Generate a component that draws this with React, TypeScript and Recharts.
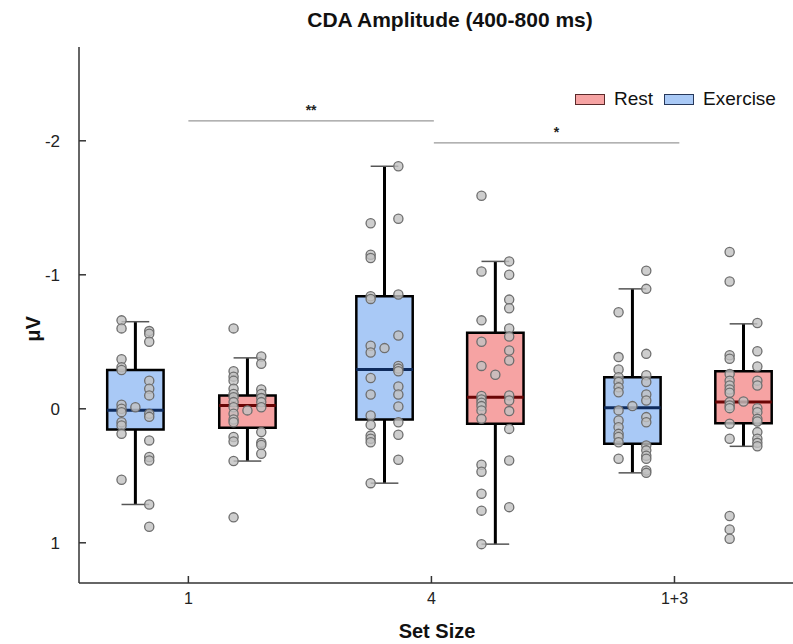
import React from 'react'
import { ComposedChart, XAxis, YAxis, Scatter, ReferenceArea, ReferenceLine } from 'recharts'

// set-size categories and their tick labels
const setSizes = ['1', '4', '1+3']
const tickPos = [1, 2, 3]

// box centres on the x scale, per condition
const exercisePos = [0.782, 1.807, 2.827]
const restPos = [1.243, 2.263, 3.284]

// [lower whisker, q1, median, q3, upper whisker] in µV
const exerciseStats = [
  [-0.65, -0.29, 0.01, 0.155, 0.714],
  [-1.81, -0.84, -0.293, 0.08, 0.555],
  [-0.895, -0.236, -0.007, 0.26, 0.478],
]
const restStats = [
  [-0.38, -0.1, -0.025, 0.142, 0.39],
  [-1.1, -0.567, -0.087, 0.112, 1.01],
  [-0.634, -0.28, -0.05, 0.107, 0.28],
]

// group means (drawn at the box centre)
const exerciseMeans = [-0.012, -0.453, -0.02]
const restMeans = [0.012, -0.254, -0.055]

// individual participants, left and right jitter columns
const exerciseLeft = [
  [-0.66, -0.6, -0.37, -0.31, -0.29, -0.03, 0.0, 0.025, 0.1, 0.124, 0.187, 0.53],
  [-1.385, -1.15, -1.125, -0.84, -0.82, -0.47, -0.42, -0.23, -0.107, 0.05, 0.12, 0.2, 0.224, 0.25, 0.555],
  [-0.72, -0.386, -0.293, -0.236, -0.2, -0.16, -0.124, 0.012, 0.087, 0.137, 0.187, 0.21, 0.25, 0.373],
]
const exerciseRight = [
  [-0.58, -0.56, -0.5, -0.21, -0.15, -0.1, 0.037, 0.06, 0.236, 0.36, 0.386, 0.714, 0.88],
  [-1.81, -1.418, -0.853, -0.547, -0.32, -0.3, -0.28, -0.166, -0.107, -0.017, 0.1, 0.194, 0.38],
  [-1.03, -0.895, -0.41, -0.25, -0.2, -0.107, -0.062, 0.062, 0.1, 0.274, 0.31, 0.35, 0.373, 0.46, 0.478],
]
const restLeft = [
  [-0.6, -0.28, -0.24, -0.21, -0.15, -0.11, -0.087, -0.05, -0.012, 0.037, 0.08, 0.1, 0.21, 0.244, 0.39, 0.81],
  [-1.59, -1.025, -0.66, -0.5, -0.32, -0.095, -0.07, -0.045, -0.02, 0.012, 0.075, 0.418, 0.47, 0.634, 0.76, 1.01],
  [-1.17, -0.95, -0.4, -0.373, -0.26, -0.21, -0.174, -0.144, -0.12, -0.05, -0.025, -0.005, 0.112, 0.224, 0.8, 0.9, 0.97],
]
const restRight = [
  [-0.39, -0.336, -0.144, -0.11, -0.08, -0.05, -0.012, 0.174, 0.254, 0.27, 0.336],
  [-1.1, -1.0, -0.815, -0.75, -0.6, -0.54, -0.435, -0.36, -0.1, -0.062, 0.017, 0.15, 0.386, 0.734],
  [-0.64, -0.43, -0.316, -0.21, -0.174, -0.005, 0.025, 0.075, 0.095, 0.174, 0.224, 0.254, 0.28],
]

// significance brackets: [x from, x to, y, label]
const brackets = [
  { x1: 1.0, x2: 2.01, y: -2.149, text: '**' },
  { x1: 2.01, x2: 3.02, y: -1.985, text: '*' },
]

const legendItems = [
  { name: 'Rest', fill: '#f6a3a3', stroke: '#5a2a2a' },
  { name: 'Exercise', fill: '#a9c9f6', stroke: '#27385a' },
]

const BOX_HALF = 0.116
const JITTER = 0.057
const CAP_HALF = 0.057
const FONT = '"Liberation Sans", Arial, Helvetica, sans-serif'

const groups = [
  { pos: exercisePos, stats: exerciseStats, means: exerciseMeans, left: exerciseLeft, right: exerciseRight, fill: '#a9c9f6', median: '#0f2b5c' },
  { pos: restPos, stats: restStats, means: restMeans, left: restLeft, right: restRight, fill: '#f6a3a3', median: '#6a0606' },
]

const points = []
groups.forEach(g => {
  g.pos.forEach((p, i) => {
    g.left[i].forEach(v => points.push({ x: p - JITTER, y: v }))
    g.right[i].forEach(v => points.push({ x: p + JITTER, y: v }))
    points.push({ x: p, y: g.means[i] })
  })
})

const Dot = (props: any) => (
  <circle cx={props.cx} cy={props.cy} r={4.6} fill="#c2c2c2" fillOpacity={0.8} stroke="#6e6e6e" strokeWidth={1.3} />
)

export default function App() {
  const boxes = []
  groups.forEach((g, gi) => {
    g.pos.forEach((p, i) => {
      const [lo, q1, med, q3, hi] = g.stats[i]
      const k = `${gi}-${i}`
      boxes.push(
        <ReferenceLine key={`wl${k}`} segment={[{ x: p, y: lo }, { x: p, y: q1 }]} stroke="#000" strokeWidth={3} />,
        <ReferenceLine key={`wh${k}`} segment={[{ x: p, y: q3 }, { x: p, y: hi }]} stroke="#000" strokeWidth={3} />,
        <ReferenceLine key={`cl${k}`} segment={[{ x: p - CAP_HALF, y: lo }, { x: p + CAP_HALF, y: lo }]} stroke="#555" strokeWidth={1.5} />,
        <ReferenceLine key={`ch${k}`} segment={[{ x: p - CAP_HALF, y: hi }, { x: p + CAP_HALF, y: hi }]} stroke="#555" strokeWidth={1.5} />,
        <ReferenceArea key={`b${k}`} x1={p - BOX_HALF} x2={p + BOX_HALF} y1={q1} y2={q3} fill={g.fill} fillOpacity={1} stroke="#000" strokeWidth={2.5} />,
        <ReferenceLine key={`m${k}`} segment={[{ x: p - BOX_HALF, y: med }, { x: p + BOX_HALF, y: med }]} stroke={g.median} strokeWidth={3} />
      )
    })
  })

  return (
    <div style={{ position: 'absolute', left: 0, top: 0, width: 793, height: 644, overflow: 'hidden', background: '#fff', fontFamily: FONT }}>
      <div style={{ position: 'absolute', left: 0, width: 900, top: 8, textAlign: 'center', fontWeight: 'bold', fontSize: 21, color: '#111' }}>
        CDA Amplitude (400-800 ms)
      </div>
      <div style={{ position: 'absolute', left: 0, width: 874, top: 620, textAlign: 'center', fontWeight: 'bold', fontSize: 20, color: '#111' }}>
        Set Size
      </div>
      <div style={{ position: 'absolute', left: 33, top: 329, transform: 'translate(-50%, -50%) rotate(-90deg)', fontWeight: 'bold', fontSize: 20, color: '#111' }}>
        μV
      </div>
      <div style={{ position: 'absolute', left: 575, top: 88, display: 'flex', alignItems: 'center', fontSize: 19, color: '#111' }}>
        {legendItems.map(it => (
          <div key={it.name} style={{ display: 'flex', alignItems: 'center', marginRight: 11 }}>
            <span style={{ display: 'inline-block', width: 28, height: 9, background: it.fill, border: `1.5px solid ${it.stroke}`, marginRight: 9 }} />
            <span>{it.name}</span>
          </div>
        ))}
      </div>
      <ComposedChart width={800} height={644} margin={{ top: 47, right: 4, bottom: 0, left: 0 }} style={{ position: 'absolute', left: 0, top: 0 }}>
        <XAxis
          type="number"
          dataKey="x"
          domain={[0.55, 3.5]}
          ticks={tickPos}
          tickFormatter={(v: number) => setSizes[tickPos.indexOf(v)]}
          allowDataOverflow
          height={61}
          tickSize={-7}
          tickMargin={17}
          axisLine={{ stroke: '#333', strokeWidth: 1.5 }}
          tickLine={{ stroke: '#333', strokeWidth: 1.5 }}
          tick={{ fill: '#222', fontSize: 16, fontFamily: FONT }}
        />
        <YAxis
          type="number"
          dataKey="y"
          reversed
          domain={[-2.7, 1.3]}
          ticks={[-2, -1, 0, 1]}
          allowDataOverflow
          width={79}
          tickSize={-7}
          tickMargin={26}
          axisLine={{ stroke: '#333', strokeWidth: 1.5 }}
          tickLine={{ stroke: '#333', strokeWidth: 1.5 }}
          tick={{ fill: '#222', fontSize: 17, fontFamily: FONT }}
        />
        {brackets.map(b => (
          <ReferenceLine
            key={b.text}
            segment={[{ x: b.x1, y: b.y }, { x: b.x2, y: b.y }]}
            stroke="#999"
            strokeWidth={1.2}
            label={{ value: b.text, position: 'top', fill: '#222', fontSize: 14, fontWeight: 'bold', offset: 6 }}
          />
        ))}
        {boxes}
        <Scatter data={points} shape={Dot} isAnimationActive={false} />
      </ComposedChart>
    </div>
  )
}
